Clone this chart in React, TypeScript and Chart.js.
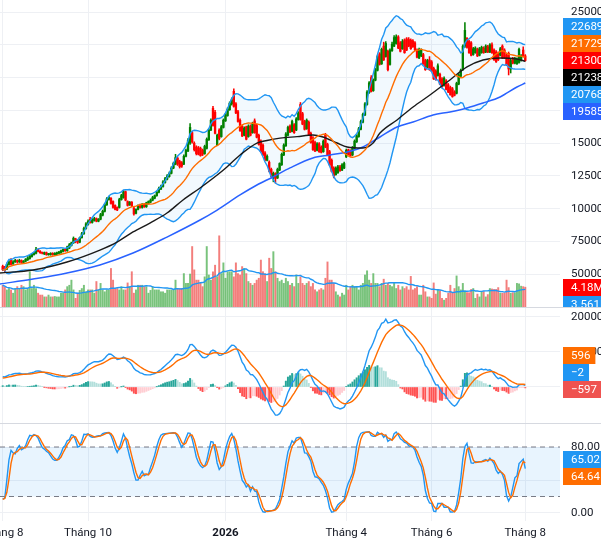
import React, { useEffect, useRef } from 'react';
import { Chart, registerables } from 'chart.js';

Chart.register(...registerables);

// ---------------- data (prices in thousands, volume in millions) ----------------
const openK = [
  56.0, 55.0, 54.0, 57.5, 61.0, 58.0, 59.5, 60.5, 59.5, 60.5,
  59.0, 60.0, 61.0, 62.0, 63.5, 65.0, 66.0, 69.0, 67.5, 66.5,
  65.5, 66.5, 65.0, 65.0, 66.0, 65.0, 65.5, 66.0, 66.5, 67.5,
  69.0, 68.0, 70.0, 72.0, 74.0, 77.0, 75.5, 74.5, 78.0, 81.0,
  85.0, 88.0, 92.0, 89.5, 91.0, 92.5, 90.5, 92.0, 95.0, 98.0,
  103.0, 107.0, 108.0, 105.5, 102.5, 101.0, 101.0, 107.0, 108.5, 113.0,
  105.5, 103.0, 105.0, 100.5, 96.5, 99.5, 102.5, 101.0, 103.5, 101.5,
  104.0, 105.0, 106.5, 108.0, 110.0, 112.5, 115.0, 117.0, 120.0, 122.5,
  124.5, 127.0, 131.0, 134.0, 138.5, 136.0, 135.0, 134.0, 140.0, 144.0,
  150.0, 158.0, 150.0, 147.0, 146.5, 146.0, 144.5, 142.0, 146.0, 152.5,
  160.0, 176.5, 173.5, 148.5, 160.0, 155.0, 162.0, 167.0, 171.0, 175.5,
  180.0, 189.5, 180.0, 174.0, 167.5, 163.0, 156.0, 162.5, 155.0, 163.0,
  158.0, 167.0, 163.5, 156.0, 151.5, 148.5, 142.5, 137.0, 135.5, 130.0,
  124.0, 126.5, 123.5, 129.5, 133.5, 141.0, 148.0, 156.0, 163.0, 159.0,
  164.0, 160.0, 168.0, 179.5, 172.5, 166.5, 161.0, 166.0, 157.5, 154.0,
  150.5, 144.5, 149.5, 147.0, 143.5, 156.5, 149.0, 143.5, 137.0, 131.0,
  126.0, 127.5, 132.0, 129.5, 131.0, 139.5, 145.0, 144.0, 141.0, 146.0,
  151.0, 155.0, 160.5, 166.0, 171.5, 179.5, 188.5, 200.0, 190.0, 198.0,
  205.5, 218.0, 210.5, 224.0, 216.0, 220.0, 210.0, 220.5, 224.0, 226.0,
  231.0, 226.5, 222.0, 228.5, 229.5, 229.0, 228.5, 228.0, 226.5, 221.0,
  215.0, 216.5, 217.5, 213.0, 208.0, 213.5, 212.0, 207.0, 205.0, 201.5,
  202.5, 199.0, 194.0, 197.5, 194.5, 192.5, 191.5, 189.0, 188.0, 195.0,
  201.0, 206.0, 224.0, 230.0, 227.5, 226.5, 217.5, 219.0, 221.5, 217.0,
  219.0, 222.5, 219.5, 223.5, 219.5, 225.0, 221.0, 219.5, 218.5, 217.0,
  224.0, 221.0, 217.0, 218.5, 206.5, 214.5, 211.0, 210.5, 211.5, 213.0,
  221.0, 216.5,
];
const highK = [
  57.0, 56.0, 58.5, 60.5, 62.0, 60.5, 61.5, 61.0, 61.5, 61.0,
  60.5, 62.0, 63.5, 64.5, 66.0, 67.0, 70.5, 69.5, 68.0, 67.0,
  67.0, 67.0, 66.0, 66.5, 66.5, 66.5, 67.0, 67.5, 68.5, 69.5,
  69.5, 71.5, 73.5, 74.5, 78.5, 77.5, 76.5, 78.5, 82.0, 86.0,
  89.5, 91.5, 93.5, 92.5, 93.5, 93.0, 92.5, 96.5, 99.0, 104.0,
  108.5, 109.5, 108.5, 106.0, 103.0, 101.5, 108.0, 111.0, 114.0, 113.5,
  106.0, 105.5, 105.5, 101.0, 100.0, 103.0, 103.5, 104.0, 104.0, 105.0,
  106.0, 107.5, 109.5, 110.5, 113.5, 116.5, 118.0, 121.5, 124.0, 126.0,
  128.0, 132.0, 135.5, 141.5, 139.5, 137.0, 136.0, 141.0, 145.5, 153.5,
  165.0, 159.0, 151.0, 148.0, 147.5, 147.0, 145.5, 148.5, 154.0, 161.0,
  168.5, 178.0, 175.0, 157.0, 161.0, 163.5, 168.5, 172.5, 177.0, 181.5,
  184.5, 191.5, 181.0, 175.0, 168.5, 164.0, 162.5, 163.0, 164.0, 164.0,
  166.0, 168.5, 164.5, 157.0, 152.5, 149.5, 143.5, 141.0, 136.5, 131.0,
  128.0, 127.5, 131.0, 135.0, 142.5, 149.5, 158.0, 163.0, 164.0, 167.5,
  165.0, 169.5, 174.0, 181.0, 173.5, 167.5, 168.5, 167.0, 158.5, 155.0,
  151.5, 150.5, 150.5, 148.0, 152.5, 157.5, 150.0, 144.5, 138.0, 132.0,
  132.0, 133.0, 133.0, 134.5, 135.5, 145.5, 145.5, 145.0, 147.5, 152.5,
  156.5, 162.0, 167.5, 173.0, 181.0, 190.0, 197.0, 201.5, 199.0, 207.0,
  217.0, 219.0, 222.5, 227.0, 227.5, 221.0, 222.0, 227.0, 232.0, 232.5,
  232.0, 227.5, 229.0, 229.5, 230.5, 230.5, 229.5, 229.0, 227.5, 222.0,
  222.5, 222.0, 218.5, 214.0, 214.0, 216.0, 213.0, 208.0, 206.0, 210.5,
  203.5, 200.0, 200.5, 198.5, 195.5, 193.5, 192.5, 190.0, 196.5, 203.0,
  206.5, 225.0, 242.0, 230.5, 228.5, 227.5, 223.0, 223.5, 222.5, 223.0,
  224.0, 223.5, 225.0, 224.5, 226.0, 226.5, 222.0, 220.5, 219.5, 223.0,
  225.0, 222.0, 218.0, 219.5, 214.0, 215.5, 215.5, 215.0, 222.5, 217.5,
  223.5, 217.5,
];
const lowK = [
  52.8, 52.0, 53.5, 57.0, 57.0, 57.5, 59.0, 58.5, 59.0, 58.5,
  58.5, 59.5, 60.5, 61.5, 63.0, 64.5, 65.5, 67.0, 66.0, 65.5,
  65.0, 64.5, 64.5, 64.5, 64.5, 64.5, 65.0, 65.5, 66.0, 67.0,
  67.5, 67.5, 69.5, 71.5, 73.5, 74.0, 73.5, 74.0, 77.5, 80.5,
  84.5, 87.5, 89.0, 89.0, 90.5, 90.0, 90.0, 91.5, 94.5, 97.5,
  102.5, 106.5, 103.5, 100.5, 99.0, 98.5, 100.5, 106.5, 108.0, 106.0,
  102.0, 102.5, 101.5, 95.0, 96.0, 99.0, 100.5, 100.5, 101.0, 101.0,
  103.5, 104.5, 106.0, 107.5, 109.5, 112.0, 114.5, 116.5, 119.5, 122.0,
  124.0, 126.5, 130.5, 133.5, 133.0, 131.0, 131.5, 133.5, 139.5, 143.5,
  149.0, 150.0, 144.0, 141.0, 141.0, 140.0, 140.5, 141.5, 145.5, 152.0,
  159.5, 163.0, 157.0, 148.0, 152.5, 154.5, 161.5, 166.5, 170.5, 175.0,
  179.0, 177.5, 172.5, 166.0, 159.0, 155.0, 155.5, 152.5, 154.5, 155.5,
  157.5, 157.5, 154.0, 148.5, 143.0, 140.5, 136.5, 136.5, 128.0, 124.0,
  120.5, 119.5, 123.0, 129.0, 133.0, 140.5, 147.5, 155.5, 158.0, 158.5,
  157.5, 159.5, 167.5, 167.5, 164.0, 160.0, 160.5, 156.0, 150.0, 144.5,
  143.5, 144.0, 143.0, 142.5, 143.0, 146.5, 140.5, 133.0, 128.0, 123.5,
  125.5, 127.0, 128.5, 129.0, 130.5, 139.0, 141.0, 140.0, 140.5, 145.5,
  150.5, 154.5, 160.0, 165.5, 171.0, 179.0, 188.0, 189.0, 189.5, 197.5,
  205.0, 209.5, 210.0, 213.0, 215.5, 205.0, 209.5, 220.0, 223.5, 225.5,
  222.0, 219.5, 221.5, 218.5, 220.5, 223.5, 221.5, 223.0, 220.5, 215.0,
  214.5, 216.0, 210.0, 205.5, 207.5, 205.5, 204.5, 198.5, 198.0, 201.0,
  194.5, 192.5, 193.5, 190.5, 188.5, 186.5, 185.0, 186.0, 187.5, 194.5,
  200.5, 205.5, 223.0, 222.5, 218.5, 216.5, 217.0, 218.5, 216.0, 216.5,
  218.5, 218.5, 219.0, 219.0, 219.0, 218.5, 213.0, 211.5, 213.0, 216.5,
  214.5, 214.5, 209.0, 202.0, 203.5, 210.5, 210.5, 210.0, 211.0, 212.5,
  215.5, 212.5,
];
const closeK = [
  53.5, 53.0, 57.5, 59.5, 57.5, 59.5, 60.5, 59.5, 60.5, 59.0,
  60.0, 61.5, 62.5, 64.0, 65.0, 66.5, 69.0, 67.5, 66.5, 66.0,
  66.5, 65.0, 65.5, 66.0, 65.0, 66.0, 66.5, 67.0, 68.0, 69.0,
  68.0, 71.0, 72.5, 74.0, 77.5, 75.0, 74.5, 78.0, 81.0, 85.0,
  88.5, 90.5, 89.5, 91.5, 92.5, 90.5, 92.0, 95.5, 98.0, 103.0,
  107.5, 108.5, 104.0, 101.0, 99.5, 99.0, 107.0, 110.0, 113.0, 106.5,
  102.5, 105.0, 102.0, 96.0, 99.5, 102.5, 101.0, 103.5, 101.5, 104.5,
  105.5, 106.5, 108.5, 110.0, 112.5, 115.5, 117.0, 120.5, 123.0, 125.0,
  127.0, 131.0, 134.5, 139.0, 134.0, 132.0, 132.5, 140.0, 144.5, 152.0,
  162.0, 151.0, 145.0, 142.0, 141.5, 140.5, 141.5, 147.5, 153.0, 160.0,
  167.5, 163.5, 157.5, 156.0, 153.5, 162.5, 167.5, 171.5, 176.0, 180.5,
  183.0, 178.0, 173.0, 166.5, 159.5, 155.5, 161.5, 153.0, 163.0, 156.0,
  165.0, 158.0, 154.5, 149.0, 143.5, 141.0, 137.0, 140.0, 128.5, 124.5,
  127.0, 123.0, 130.0, 134.5, 141.5, 148.5, 157.0, 162.0, 158.5, 166.5,
  158.0, 168.5, 173.0, 168.0, 164.5, 160.5, 167.5, 156.5, 150.5, 145.0,
  144.0, 149.5, 143.5, 143.0, 151.5, 147.0, 141.0, 133.5, 128.5, 125.0,
  131.0, 132.0, 129.0, 133.5, 134.5, 144.5, 141.5, 140.5, 146.5, 151.5,
  155.5, 161.0, 166.5, 172.0, 180.0, 189.0, 196.0, 189.5, 198.0, 206.0,
  216.0, 210.0, 221.5, 213.5, 226.0, 206.0, 221.0, 225.5, 230.5, 231.0,
  222.5, 220.0, 227.5, 219.0, 221.0, 224.0, 222.0, 223.5, 221.0, 215.5,
  221.5, 221.0, 210.5, 206.0, 213.0, 206.0, 205.0, 199.0, 198.5, 209.0,
  195.0, 193.0, 199.5, 191.0, 189.0, 187.0, 185.5, 186.5, 195.5, 202.0,
  205.5, 224.0, 236.0, 223.0, 219.0, 217.0, 222.0, 222.5, 216.5, 222.0,
  223.0, 219.0, 224.0, 219.5, 225.0, 219.0, 213.5, 212.0, 213.5, 222.0,
  215.0, 215.0, 209.5, 206.5, 213.0, 211.0, 214.5, 214.0, 221.5, 216.5,
  216.0, 213.0,
];
const volumeM = [
  4.6, 4.2, 3.6, 3.9, 3.6, 2.9, 3.9, 4.3, 3.9, 4.6,
  4.3, 3.6, 3.9, 7.5, 3.9, 4.6, 3.9, 2.9, 2.5, 2.5,
  2.1, 2.1, 2.5, 2.1, 2.1, 2.2, 2.1, 2.1, 2.9, 2.9,
  3.6, 4.3, 4.6, 5.7, 3.6, 1.8, 2.9, 3.5, 3.9, 4.6,
  3.2, 3.6, 3.6, 3.6, 2.9, 5.4, 3.6, 5.0, 3.6, 3.2,
  3.6, 3.6, 8.2, 5.7, 3.9, 3.9, 3.6, 4.3, 3.6, 3.6,
  5.1, 4.3, 7.5, 2.9, 3.6, 4.6, 4.6, 4.6, 4.3, 4.3,
  2.9, 3.5, 4.3, 3.6, 3.6, 3.6, 3.2, 3.2, 2.9, 3.6,
  3.6, 3.6, 3.6, 5.7, 3.9, 3.9, 3.9, 7.1, 5.0, 5.0,
  7.0, 12.9, 7.9, 5.7, 5.7, 5.0, 4.3, 6.4, 12.9, 6.8,
  5.7, 7.5, 8.9, 6.4, 15.2, 7.1, 9.4, 6.1, 7.5, 7.5,
  7.5, 6.4, 9.4, 7.1, 6.8, 8.6, 8.2, 7.1, 5.4, 5.0,
  4.6, 5.0, 5.7, 6.1, 10.0, 7.5, 7.1, 5.4, 10.4, 8.2,
  11.8, 7.5, 6.1, 5.4, 5.7, 5.0, 6.1, 5.4, 4.6, 5.0,
  4.3, 6.8, 5.0, 6.4, 5.0, 4.6, 5.0, 5.4, 4.3, 5.0,
  3.6, 3.2, 3.6, 3.9, 3.6, 6.1, 9.6, 5.7, 5.7, 5.0,
  3.2, 2.5, 2.1, 2.9, 2.5, 4.6, 3.6, 4.3, 4.6, 4.3,
  4.3, 3.6, 4.6, 5.0, 6.8, 7.7, 5.7, 5.0, 7.1, 5.0,
  5.0, 4.3, 5.0, 5.9, 4.6, 5.0, 4.6, 4.3, 5.0, 3.9,
  4.6, 3.6, 4.3, 3.9, 4.3, 3.6, 6.5, 3.6, 3.9, 4.3,
  2.5, 2.5, 4.6, 3.2, 2.1, 2.1, 1.8, 5.1, 2.7, 3.6,
  3.4, 1.8, 1.4, 1.8, 2.9, 4.6, 3.0, 3.9, 6.6, 4.3,
  3.6, 5.0, 3.4, 3.0, 3.0, 3.7, 3.9, 1.8, 2.7, 2.1,
  3.2, 3.2, 2.1, 2.6, 3.9, 3.8, 3.7, 3.7, 4.1, 2.9,
  2.9, 2.9, 5.7, 4.1, 2.9, 3.0, 3.0, 5.0, 4.9, 4.4,
  4.3, 4.18,
];

// moving averages: [bar index, price in thousands]
const blackMA = [
  [-1.3, 51.0], [14.6, 53.3], [30.9, 59.4], [46.7, 68.5], [54.9, 74.6], [62.6, 82.3],
  [70.7, 89.1], [78.9, 96.7], [86.6, 106.7], [94.8, 115.8], [106, 129.5], [114, 141.0],
  [122.1, 150.1], [126.9, 152.0], [133.2, 153.8], [141.4, 155.0], [149, 156.2], [153.8, 154.7],
  [160.6, 150.1], [165.4, 147.1], [173, 146.3], [177.9, 150.1], [181.2, 157.7], [189.4, 167.7],
  [197.1, 177.6], [205.2, 186.7], [214.8, 198.2], [223, 208.1], [230.7, 213.4], [238.9, 214.9],
  [247, 214.2], [251, 212.38],
];
const blueMA = [
  [-1.3, 42.6], [14.6, 46.4], [30.9, 51.0], [46.7, 57.1], [62.6, 66.2], [78.9, 78.4],
  [94.8, 91.4], [103, 99.0], [114, 110.5], [122.1, 118.1], [129.8, 124.2], [138, 131.1],
  [149, 138.7], [157.2, 141.0], [165.4, 143.3], [173, 147.1], [181.2, 154.7], [189.4, 162.3],
  [197.1, 166.1], [206.7, 171.5], [214.8, 173.8], [223, 176.8], [230.7, 180.6], [238.9, 185.2],
  [247, 192.8], [251, 195.85],
];

// MACD state at the left edge
const ema12Start = 51200;
const ema26Start = 48250;
const signalStart = 2570;
// stochastic settings
const stochLength = 21;
const stochSmooth = 3;

// axes
const xTickIdx = [0, 41, 107, 165, 206, 251];
const xTickText = ['Tháng 8', 'Tháng 10', '2026', 'Tháng 4', 'Tháng 6', 'Tháng 8'];
const priceTicks = [50000, 75000, 100000, 125000, 150000, 175000, 200000, 225000, 250000];
const macdTicks = [0, 10000, 20000];
const stochTicks = [0, 40, 80];

// last-value badges on the right axis
const priceBadgeValues = [226890, 217290, 213000, 212380, 207680, 195850];
const priceBadgeColors = ['#2196f3', '#ff6d00', '#ff0000', '#000000', '#2196f3', '#2962ff'];
const volBadgeValues = [4180000, 3561000];
const volBadgeText = ['4.18M', '3.561M'];
const volBadgeColors = ['#ff0000', '#2196f3'];
const macdBadgeValues = [596, -2, -597];
const macdBadgeText = ['596', '\u22122', '\u2212597'];
const macdBadgeColors = ['#ff6d00', '#2196f3', '#ef5350'];
const stochBadgeValues = [65.02, 64.64];
const stochBadgeText = ['65.02', '64.64'];
const stochBadgeColors = ['#2196f3', '#ff6d00'];

// ---------------- styling ----------------
const FONT = 'Roboto, "Noto Sans", "DejaVu Sans", sans-serif';
const FS = 11.5;
const TEXT = '#131722';
const GRID = '#eef0f4';
const UP = '#008000';
const DOWN = '#ff0000';
const X_MIN = -1.3;
const X_MAX = X_MIN + 560 / 2.082;

// ---------------- helpers ----------------
function sma(v: number[], n: number): number[] {
  return v.map((_, i) => {
    const s = Math.max(0, i - n + 1);
    let sum = 0;
    for (let j = s; j <= i; j++) sum += v[j];
    return sum / (i - s + 1);
  });
}
function stdev(v: number[], n: number): number[] {
  const m = sma(v, n);
  return v.map((_, i) => {
    const s = Math.max(0, i - n + 1);
    let sum = 0;
    for (let j = s; j <= i; j++) sum += (v[j] - m[i]) ** 2;
    return Math.sqrt(sum / (i - s + 1));
  });
}
function ema(v: number[], n: number, seed: number): number[] {
  const a = 2 / (n + 1);
  const out: number[] = [];
  let prev = seed;
  v.forEach((x, i) => {
    if (i > 0) prev = prev + a * (x - prev);
    out.push(prev);
  });
  return out;
}

function badges(
  ctx: CanvasRenderingContext2D,
  scale: any,
  values: number[],
  texts: string[],
  colors: string[],
  anchor: number,
  left: number,
  clipTop: number,
  clipBottom: number,
) {
  const h = 17;
  const ideal = values.map((v) => scale.getPixelForValue(v));
  const order = values.map((_, k) => k).sort((a, b) => ideal[a] - ideal[b]);
  const pos: number[] = new Array(values.length);
  const ai = order.indexOf(anchor);
  pos[order[ai]] = ideal[order[ai]];
  for (let k = ai - 1; k >= 0; k--) pos[order[k]] = Math.min(ideal[order[k]], pos[order[k + 1]] - h);
  for (let k = ai + 1; k < order.length; k++) pos[order[k]] = Math.max(ideal[order[k]], pos[order[k - 1]] + h);
  ctx.save();
  ctx.beginPath();
  ctx.rect(left - 2, clipTop, 1000, clipBottom - clipTop);
  ctx.clip();
  ctx.font = `${FS}px ${FONT}`;
  ctx.textBaseline = 'middle';
  ctx.textAlign = 'left';
  values.forEach((_, k) => {
    const w = ctx.measureText(texts[k]).width + 13;
    const top = Math.round(pos[k] - h / 2);
    ctx.fillStyle = colors[k];
    ctx.fillRect(left, top, w, h);
    ctx.fillStyle = '#ffffff';
    ctx.fillText(texts[k], left + 8, top + h / 2 + 0.5);
  });
  ctx.restore();
}

const overlayPlugin = {
  id: 'overlay',
  afterDraw(chart: any) {
    const ctx: CanvasRenderingContext2D = chart.ctx;
    const { yPrice, yMacd, yStoch, yVol } = chart.scales;
    const left = chart.chartArea.right + 3;
    ctx.save();
    ctx.strokeStyle = '#d6d9e0';
    ctx.lineWidth = 1;
    [yMacd.top, yStoch.top].forEach((y: number) => {
      const yy = Math.round(y) + 0.5;
      ctx.beginPath();
      ctx.moveTo(0, yy);
      ctx.lineTo(chart.width, yy);
      ctx.stroke();
    });
    ctx.restore();
    badges(ctx, yPrice, priceBadgeValues, priceBadgeValues.map((v) => String(v)), priceBadgeColors, 2, left, yPrice.top, yPrice.bottom);
    badges(ctx, yVol, volBadgeValues, volBadgeText, volBadgeColors, 0, left, yPrice.top, yPrice.bottom);
    badges(ctx, yMacd, macdBadgeValues, macdBadgeText, macdBadgeColors, 2, left, yMacd.top + 1, yMacd.bottom);
    badges(ctx, yStoch, stochBadgeValues, stochBadgeText, stochBadgeColors, 0, left, yStoch.top + 1, yStoch.bottom);
  },
};

const noPadding = (s: any) => {
  s.paddingLeft = 0;
  s.paddingRight = 0;
  s.paddingTop = 0;
  s.paddingBottom = 0;
};

function yAxis(stackWeight: number, min: number, max: number, ticks: number[], fmt: (v: number) => string) {
  return {
    type: 'linear',
    position: 'right',
    stack: 'panes',
    stackWeight,
    min,
    max,
    bounds: 'data',
    grid: { color: GRID, drawTicks: false },
    border: { display: false },
    ticks: {
      autoSkip: false,
      padding: 11,
      color: TEXT,
      font: { family: FONT, size: FS },
      callback: (v: any) => fmt(Number(v)),
    },
    afterBuildTicks: (s: any) => {
      s.ticks = ticks.map((value) => ({ value }));
    },
    afterFit: (s: any) => {
      s.width = 41;
      noPadding(s);
    },
  };
}

export default function App() {
  const ref = useRef<HTMLCanvasElement | null>(null);

  useEffect(() => {
    document.body.style.margin = '0';
    const canvas = ref.current;
    if (!canvas) return;

    const idx = closeK.map((_, i) => i);
    const O = openK.map((v) => v * 1000);
    const H = highK.map((v) => v * 1000);
    const L = lowK.map((v) => v * 1000);
    const C = closeK.map((v) => v * 1000);
    const V = volumeM.map((v) => v * 1e6);
    const up = idx.map((i) => C[i] >= O[i]);

    const basis = sma(C, 20);
    const sd = stdev(C, 20);
    const bbUp = basis.map((m, i) => m + 2 * sd[i]);
    const bbLo = basis.map((m, i) => m - 2 * sd[i]);

    const e12 = ema(C, 12, ema12Start);
    const e26 = ema(C, 26, ema26Start);
    const macd = e12.map((v, i) => v - e26[i]);
    const signal = ema(macd, 9, signalStart);
    const hist = macd.map((v, i) => v - signal[i]);
    const histColor = hist.map((h, i) => {
      const p = i > 0 ? hist[i - 1] : h;
      if (h >= 0) return h >= p ? '#26a69a' : '#b2dfdb';
      return h < p ? '#ff5252' : '#ffcdd2';
    });

    const rawK = idx.map((i) => {
      const s = Math.max(0, i - stochLength + 1);
      let hh = -Infinity;
      let ll = Infinity;
      for (let j = s; j <= i; j++) {
        hh = Math.max(hh, H[j]);
        ll = Math.min(ll, L[j]);
      }
      return hh === ll ? 50 : (100 * (C[i] - ll)) / (hh - ll);
    });
    const stochK = sma(rawK, stochSmooth);
    const stochD = sma(stochK, 3);
    const volMA = sma(V, 20);

    const pts = (arr: number[]) => arr.map((y, i) => ({ x: i, y }));
    const line = (data: any[], color: string, width: number, yAxisID: string, order: number, extra: any = {}) => ({
      type: 'line',
      data,
      borderColor: color,
      borderWidth: width,
      pointRadius: 0,
      pointHoverRadius: 0,
      fill: false,
      tension: 0,
      xAxisID: 'x',
      yAxisID,
      order,
      ...extra,
    });

    const datasets: any[] = [
      line(pts(bbUp), '#2196f3', 1.4, 'yPrice', 2, { fill: '+1', backgroundColor: 'rgba(33,150,243,0.06)' }),
      line(pts(bbLo), '#2196f3', 1.4, 'yPrice', 2),
      line(pts(basis), '#ff6d00', 1.4, 'yPrice', 1),
      line(blackMA.map(([x, y]) => ({ x, y: y * 1000 })), '#1a1a1a', 1.4, 'yPrice', 1, { cubicInterpolationMode: 'monotone' }),
      line(blueMA.map(([x, y]) => ({ x, y: y * 1000 })), '#2962ff', 1.5, 'yPrice', 1, { cubicInterpolationMode: 'monotone' }),
      {
        type: 'bar',
        data: idx.map((i) => ({ x: i, y: [L[i], H[i]] })),
        backgroundColor: up.map((u) => (u ? UP : DOWN)),
        barThickness: 0.9,
        grouped: false,
        xAxisID: 'x',
        yAxisID: 'yPrice',
        order: 4,
      },
      {
        type: 'bar',
        data: idx.map((i) => ({ x: i, y: [O[i], C[i]] })),
        backgroundColor: up.map((u) => (u ? UP : DOWN)),
        barThickness: 1.7,
        minBarLength: 1,
        grouped: false,
        xAxisID: 'x',
        yAxisID: 'yPrice',
        order: 3,
      },
      {
        type: 'bar',
        data: pts(V),
        backgroundColor: up.map((u) => (u ? 'rgba(76,175,80,0.75)' : 'rgba(239,83,80,0.75)')),
        barThickness: 1.3,
        grouped: false,
        xAxisID: 'x',
        yAxisID: 'yVol',
        order: 6,
      },
      line(pts(volMA), '#2196f3', 1.4, 'yVol', 5),
      {
        type: 'bar',
        data: pts(hist),
        backgroundColor: histColor,
        barThickness: 1.3,
        grouped: false,
        xAxisID: 'x',
        yAxisID: 'yMacd',
        order: 3,
      },
      line(pts(macd), '#2196f3', 1.4, 'yMacd', 2),
      line(pts(signal), '#ff6d00', 1.4, 'yMacd', 1),
      line([{ x: X_MIN, y: 80 }, { x: X_MAX, y: 80 }], '#787b86', 1, 'yStoch', 4, {
        borderDash: [5, 4],
        fill: { value: 20 },
        backgroundColor: 'rgba(33,150,243,0.1)',
      }),
      line([{ x: X_MIN, y: 20 }, { x: X_MAX, y: 20 }], '#787b86', 1, 'yStoch', 4, { borderDash: [5, 4] }),
      line(pts(stochK), '#2196f3', 1.4, 'yStoch', 2),
      line(pts(stochD), '#ff6d00', 1.4, 'yStoch', 1),
    ];

    const chart = new Chart(canvas, {
      type: 'bar',
      data: { datasets },
      options: {
        responsive: false,
        animation: false,
        events: [],
        layout: { padding: 0, autoPadding: false },
        plugins: {
          legend: { display: false },
          tooltip: { enabled: false },
          filler: { drawTime: 'beforeDatasetsDraw' },
        },
        scales: {
          x: {
            type: 'linear',
            position: 'bottom',
            min: X_MIN,
            max: X_MAX,
            bounds: 'data',
            offset: false,
            grid: { color: GRID, drawTicks: false, offset: false },
            border: { display: false },
            ticks: {
              autoSkip: false,
              maxRotation: 0,
              padding: 5,
              color: TEXT,
              font: (c: any) => ({
                family: FONT,
                size: FS,
                weight: c.tick && c.tick.label === '2026' ? 'bold' : 'normal',
              }),
              callback: (v: any) => {
                const k = xTickIdx.indexOf(Number(v));
                return k >= 0 ? xTickText[k] : '';
              },
            },
            afterBuildTicks: (s: any) => {
              s.ticks = xTickIdx.map((value) => ({ value }));
            },
            afterFit: (s: any) => {
              s.height = 21;
              noPadding(s);
            },
          },
          yPrice: yAxis(307, 25063, 259150, priceTicks, (v) => String(v)),
          yMacd: yAxis(116, -10286, 22857, macdTicks, (v) => String(v)),
          yStoch: yAxis(98, -9.7, 109.1, stochTicks, (v) => v.toFixed(2)),
          yVol: {
            type: 'linear',
            position: 'left',
            display: false,
            min: -45.95e6,
            max: 65.76e6,
            bounds: 'data',
            afterFit: (s: any) => {
              s.width = 0;
              noPadding(s);
            },
          },
        },
      } as any,
      plugins: [overlayPlugin],
    } as any);

    return () => chart.destroy();
  }, []);

  return (
    <canvas
      ref={ref}
      width={601}
      height={542}
      style={{ display: 'block', width: '601px', height: '542px', background: '#ffffff' }}
    />
  );
}
